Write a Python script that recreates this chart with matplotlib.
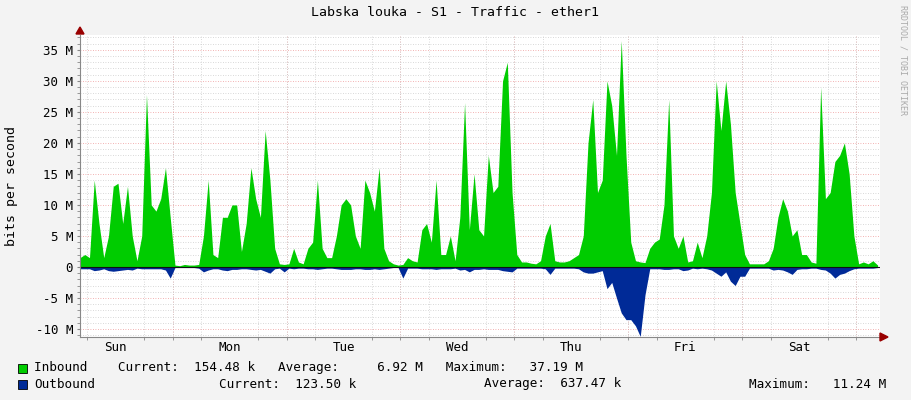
import numpy as np
import matplotlib.pyplot as plt
from matplotlib.ticker import MultipleLocator, FuncFormatter

# hourly samples, Mbit/s, starting Sun ~04:30
inbound = [1.5, 2, 1.5, 14, 7, 1.5, 5, 13, 13.5, 7, 13, 5, 1, 5, 27.8, 10, 9, 11, 16, 8,
           0.3, 0.2, 0.4, 0.3, 0.3, 0.4, 5, 14, 2, 1.5, 8, 8, 10, 10, 2.5, 7, 16, 11, 8, 22,
           14, 3, 0.5, 0.4, 0.5, 3, 0.8, 0.5, 3, 4, 14, 3, 1.5, 1.5, 5, 10, 11, 10, 5, 3,
           14, 12, 9, 16, 3, 1, 0.5, 0.3, 0.4, 1.5, 1, 0.8, 6, 7, 4, 14, 2, 2, 5, 1,
           8, 26.5, 6, 15, 6, 5, 18, 12, 13, 30, 33, 12, 2, 0.8, 0.8, 0.6, 0.5, 1, 5, 7,
           1, 0.8, 0.8, 1, 1.5, 2, 5, 20, 27, 12, 14, 30, 26, 18, 36.5, 18, 4, 1, 0.8, 0.7,
           3, 4, 4.5, 10, 27, 5, 3, 5, 0.8, 1, 4, 1.5, 5, 12, 30, 22, 30, 23, 12, 7,
           2, 0.5, 0.5, 0.5, 0.5, 1, 3, 8, 11, 9, 5, 6, 2, 2, 0.8, 0.6, 29, 11, 12, 17,
           18, 20, 15, 5, 0.5, 0.8, 0.5, 1, 0.3]
outbound = [0.3, 0.3, 0.3, 0.6, 0.5, 0.3, 0.6, 0.7, 0.6, 0.5, 0.4, 0.5, 0.2, 0.3, 0.3, 0.3, 0.3, 0.3, 0.5, 1.8,
            0.1, 0.1, 0.1, 0.1, 0.1, 0.2, 0.8, 0.5, 0.3, 0.3, 0.5, 0.6, 0.4, 0.4, 0.3, 0.3, 0.4, 0.5, 0.4, 0.7,
            1.0, 0.3, 0.2, 0.8, 0.2, 0.3, 0.2, 0.2, 0.3, 0.3, 0.4, 0.3, 0.2, 0.2, 0.3, 0.4, 0.4, 0.4, 0.3, 0.3,
            0.4, 0.4, 0.3, 0.4, 0.3, 0.2, 0.1, 0.1, 1.8, 0.2, 0.2, 0.2, 0.3, 0.3, 0.3, 0.4, 0.3, 0.3, 0.3, 0.2,
            0.5, 0.4, 0.8, 0.4, 0.4, 0.3, 0.4, 0.4, 0.4, 0.6, 0.7, 0.8, 0.2, 0.2, 0.2, 0.2, 0.2, 0.2, 0.3, 1.2,
            0.2, 0.2, 0.2, 0.2, 0.2, 0.3, 0.8, 1.0, 1.0, 0.8, 0.6, 3.5, 2.5, 5.0, 7.4, 8.5, 8.5, 9.5, 11.2, 4.5,
            0.3, 0.3, 0.3, 0.4, 0.4, 0.3, 0.3, 0.6, 0.5, 0.2, 0.3, 0.2, 0.3, 0.5, 1.0, 1.5, 0.8, 2.3, 3.0, 1.5,
            1.5, 0.2, 0.2, 0.2, 0.2, 0.2, 0.5, 0.4, 0.5, 0.8, 1.2, 0.4, 0.3, 0.3, 0.2, 0.2, 0.4, 0.5, 1.0, 1.8,
            1.2, 1.0, 0.6, 0.3, 0.2, 0.2, 0.2, 0.2, 0.1]
day_names = ["Sun", "Mon", "Tue", "Wed", "Thu", "Fri", "Sat"]

START = 4.5  # hours after Sunday midnight
hours = START + np.arange(len(inbound))
inb = np.array(inbound)
outb = -np.array(outbound)

GREEN = "#00cc00"
BLUE = "#002a97"
BG = "#f3f3f3"

plt.rcParams["font.family"] = "DejaVu Sans Mono"
fig = plt.figure(figsize=(9.11, 4.0), dpi=100, facecolor=BG)
ax = fig.add_axes([80 / 911, 1 - 337 / 400, 800 / 911, 302 / 400])
ax.set_facecolor("white")

ax.fill_between(hours, 0, inb, color=GREEN, linewidth=0)
ax.fill_between(hours, 0, outb, color=BLUE, linewidth=0)
ax.axhline(0, color="#111111", lw=0.8)

ax.set_xlim(START, START + 168.5)
ax.set_ylim(-11.3, 37.4)

# grid
ax.yaxis.set_major_locator(MultipleLocator(5))
ax.yaxis.set_minor_locator(MultipleLocator(1))
ax.xaxis.set_minor_locator(MultipleLocator(6))
ax.set_xticks([24 * d + 12 for d in range(7)])
ax.set_xticklabels(day_names)
ax.yaxis.set_major_formatter(FuncFormatter(lambda v, p: f"{int(v)} M" if v != 0 else "0"))
ax.grid(which="minor", color="#cccccc", ls=(0, (1, 2)), lw=0.6)
ax.grid(which="major", axis="y", color="#ee9999", ls=(0, (1, 2)), lw=0.6)
for d in range(1, 8):
    ax.axvline(24 * d, color="#ee9999", ls=(0, (1, 2)), lw=0.6, zorder=0.5)
ax.set_axisbelow(True)

for s in ["top", "right"]:
    ax.spines[s].set_visible(False)
ax.spines["left"].set_color("#888888")
ax.spines["bottom"].set_color("#888888")
ax.tick_params(axis="both", which="both", length=2, labelsize=9, colors="#888888",
               labelcolor="black", pad=3)
ax.tick_params(axis="x", which="major", length=0)

# axis arrows
fig.patches.append(plt.Polygon([[76 / 911, 1 - 34 / 400], [84 / 911, 1 - 34 / 400], [80 / 911, 1 - 27 / 400]],
                               closed=True, color="#990000", transform=fig.transFigure))
fig.patches.append(plt.Polygon([[880 / 911, 1 - 333 / 400], [880 / 911, 1 - 341 / 400], [888 / 911, 1 - 337 / 400]],
                               closed=True, color="#990000", transform=fig.transFigure))

fig.text(455 / 911, 1 - 13 / 400, "Labska louka - S1 - Traffic - ether1", ha="center", va="center", fontsize=9.5)
fig.text(12 / 911, 1 - 186 / 400, "bits per second", rotation=90, ha="center", va="center", fontsize=9.5)
fig.text(903 / 911, 1 - 60 / 400, "RRDTOOL / TOBI OETIKER", rotation=270, ha="center", va="center",
         fontsize=6, color="#aaaaaa")

# legend
def sq(x, y, c):
    fig.patches.append(plt.Rectangle((x / 911, 1 - (y + 5) / 400), 9 / 911, 9 / 400, facecolor=c,
                                     edgecolor="black", lw=0.6, transform=fig.transFigure))

sq(18, 368, GREEN)
sq(18, 384, BLUE)
fs = 9.1
fig.text(34 / 911, 1 - 368 / 400, "Inbound    Current:  154.48 k   Average:     6.92 M   Maximum:   37.19 M",
         va="center", fontsize=fs)
fig.text(34 / 911, 1 - 384 / 400, "Outbound", va="center", fontsize=fs)
fig.text(219 / 911, 1 - 384 / 400, "Current:  123.50 k", va="center", fontsize=fs)
fig.text(484 / 911, 1 - 384 / 400, "Average:  637.47 k", va="center", fontsize=fs)
fig.text(749 / 911, 1 - 384 / 400, "Maximum:   11.24 M", va="center", fontsize=fs)

fig.savefig("out.png", dpi=100, facecolor=BG)
